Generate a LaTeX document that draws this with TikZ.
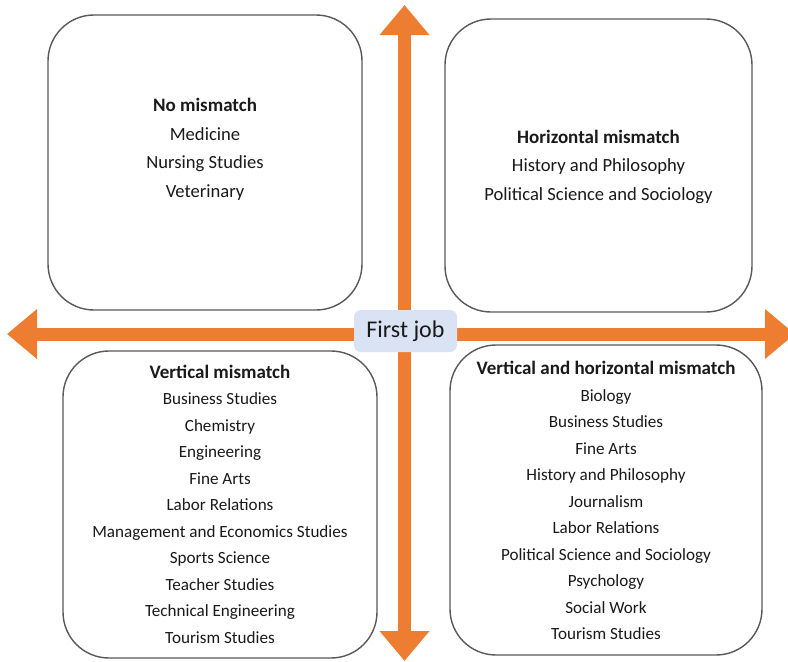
\documentclass[tikz,border=0pt]{standalone}
\usepackage{fontspec}
\setmainfont{Carlito}
\usetikzlibrary{arrows.meta}
\definecolor{accent}{HTML}{ED7D31}
\definecolor{hubfill}{HTML}{DAE3F3}
\definecolor{frame}{HTML}{595959}
\definecolor{ink}{HTML}{1A1A1A}
\newcommand{\quadhead}[1]{{\fontsize{19}{26.5}\selectfont\bfseries #1}}
\begin{document}
\begin{tikzpicture}[x=1pt,y=-1pt,
  quad/.style={draw=frame, line width=1.4pt, rounded corners=46pt, fill=white, inner sep=0pt},
  bigarrow/.style={draw=accent, line width=13pt, -{Triangle[width=48pt,length=30pt]}},
  hub/.style={fill=hubfill, rounded corners=7pt, minimum width=103pt, minimum height=42pt,
    inner sep=0pt, font=\fontsize{24}{28}\selectfont, text=ink},
  toplist/.style={align=center, text=ink, inner sep=0pt, font=\fontsize{18.6}{28.5}\selectfont},
  lowlist/.style={align=center, text=ink, inner sep=0pt, font=\fontsize{17.1}{26.5}\selectfont}]
\useasboundingbox (0,0) rectangle (788,662);

% axes
\coordinate (c) at (404.5,334);
\coordinate (up) at (404.5,5);
\coordinate (down) at (404.5,661);
\coordinate (left) at (7,334);
\coordinate (right) at (795,334);
\draw[bigarrow] (c) -- (up);
\draw[bigarrow] (c) -- (down);
\draw[bigarrow] (c) -- (left);
\draw[bigarrow] (c) -- (right);

% quadrant frames
\node[quad, minimum width=314pt, minimum height=295pt] (tl) at (205,162.5) {};
\node[quad, minimum width=307pt, minimum height=293pt] (tr) at (598.5,165.5) {};
\node[quad, minimum width=314pt, minimum height=307pt] (bl) at (220,504.5) {};
\node[quad, minimum width=312pt, minimum height=310pt] (br) at (606,500) {};

% centre label
\node[hub] (hub) at (405.5,331) {First job};

% quadrant contents
\node[toplist] (tltext) at (205,149.5) {\quadhead{No mismatch}\\Medicine\\Nursing Studies\\Veterinary};
\node[toplist] (trtext) at (598.5,166.5) {\quadhead{Horizontal mismatch}\\History and Philosophy\\Political Science and Sociology};
\node[lowlist] (bltext) at (220,504) {\quadhead{Vertical mismatch}\\Business Studies\\Chemistry\\Engineering\\Fine Arts\\Labor Relations\\Management and Economics Studies\\Sports Science\\Teacher Studies\\Technical Engineering\\Tourism Studies};
\node[lowlist] (brtext) at (606,500.5) {\quadhead{Vertical and horizontal mismatch}\\Biology\\Business Studies\\Fine Arts\\History and Philosophy\\Journalism\\Labor Relations\\Political Science and Sociology\\Psychology\\Social Work\\Tourism Studies};
\end{tikzpicture}
\end{document}
